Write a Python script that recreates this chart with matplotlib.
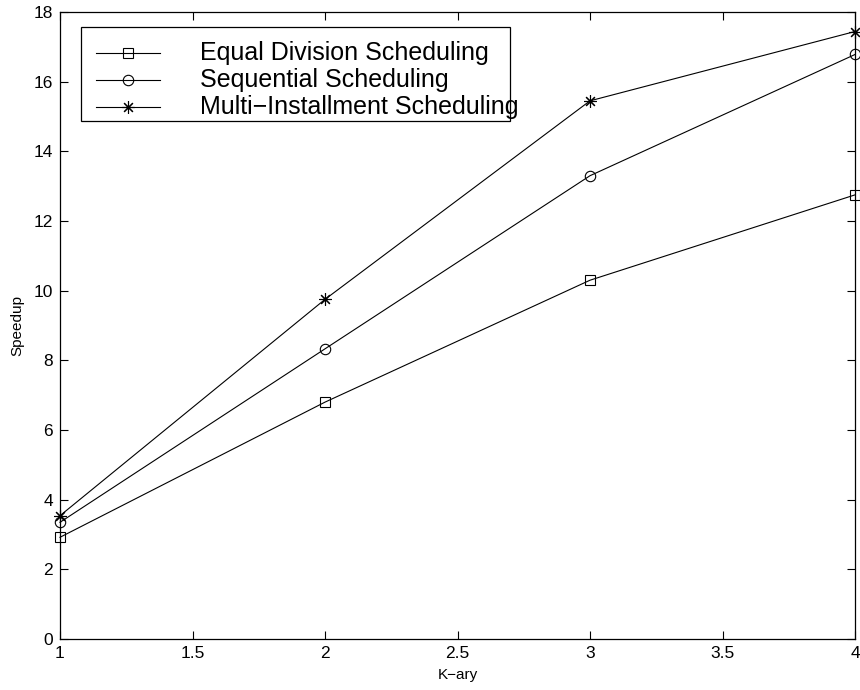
import matplotlib
matplotlib.use("Agg")
import matplotlib.pyplot as plt
from matplotlib.lines import Line2D
from matplotlib.patches import Rectangle

plt.rcParams['font.family'] = ['Liberation Sans', 'DejaVu Sans']

k_ary = [1, 2, 3, 4]
equal_division = [2.92, 6.80, 10.30, 12.75]
sequential = [3.35, 8.33, 13.30, 16.78]
multi_installment = [3.54, 9.75, 15.45, 17.44]
labels = ["Equal Division Scheduling", "Sequential Scheduling", "Multi\u2212Installment Scheduling"]
markers = ["s", "o", (8, 2, 0)]
msizes = [6.5, 7.5, 9]

fig = plt.figure(figsize=(8.6, 6.9), dpi=100)
ax = fig.add_axes([60/860, 51/690, 795/860, 627/690])

series = [equal_division, sequential, multi_installment]
for ys, m, ms in zip(series, markers, msizes):
    ax.plot(k_ary, ys, color='black', lw=0.8, marker=m, ms=ms,
            mfc='none', mec='black', mew=0.8, clip_on=False)

ax.set_xlim(1, 4)
ax.set_ylim(0, 18)
ax.set_xticks([1, 1.5, 2, 2.5, 3, 3.5, 4])
ax.set_xticklabels(["1", "1.5", "2", "2.5", "3", "3.5", "4"])
ax.set_yticks(range(0, 19, 2))
ax.tick_params(direction='in', top=True, right=True, length=6, width=0.8,
               labelsize=12.5, pad=5)
for s in ax.spines.values():
    s.set_linewidth(0.9)
ax.set_xlabel("K\u2212ary", fontsize=11, labelpad=5)
ax.set_ylabel("Speedup", fontsize=11, labelpad=7)

# Manual legend in axes coordinates
def axx(px):
    return (px - 60) / 795
def axy(py):
    return (639 - py) / 627

ax.add_patch(Rectangle((axx(80.7), axy(121)), axx(510) - axx(80.7), axy(26.7) - axy(121),
                       transform=ax.transAxes, fill=True, facecolor='white',
                       edgecolor='black', lw=0.9, zorder=5))
rows = [53, 80, 107]
for py, lab, m, ms in zip(rows, labels, markers, msizes):
    ax.add_line(Line2D([axx(96), axx(160)], [axy(py), axy(py)], transform=ax.transAxes,
                       color='black', lw=0.8, zorder=6))
    ax.add_line(Line2D([axx(128)], [axy(py)], transform=ax.transAxes, marker=m, ms=ms,
                       mfc='none', mec='black', mew=0.8, zorder=6))
    ax.text(axx(200), axy(py), lab, transform=ax.transAxes, fontsize=18,
            va='center', ha='left', zorder=7)

fig.savefig("out.png", dpi=100)
